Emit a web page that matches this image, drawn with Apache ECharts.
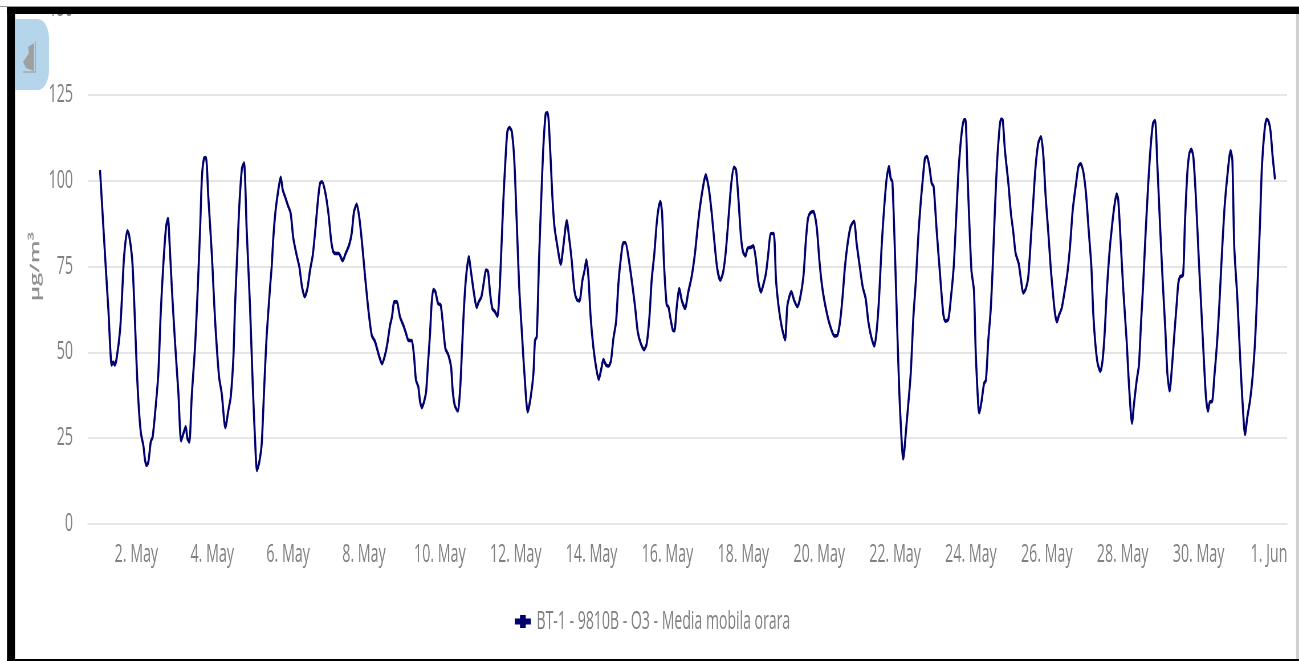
<!DOCTYPE html>
<html><head><meta charset="utf-8">
<style>html,body{margin:0;padding:0;background:#fff;overflow:hidden;width:1299px;height:661px}
#c{height:661px;transform-origin:0 0;filter:blur(0.35px)}</style>
<script src="https://cdn.jsdelivr.net/npm/echarts@6/dist/echarts.min.js"></script>
</head><body><div id="c"></div>
<script>
const seriesName = 'BT-1 - 9810B - O3 - Media mobila orara';
const unitLabel = 'µg/m³';
const tickHours = [24,72,120,168,216,264,312,360,408,456,504,552,600,648,696,744];
const tickLabels = ['2. May','4. May','6. May','8. May','10. May','12. May','14. May','16. May','18. May','20. May','22. May','24. May','26. May','28. May','30. May','1. Jun'];
// hours since 1 May 00:00
const hours = [1,4.6,6.3,8.4,9.4,10.3,11.5,13.7,14.9,16.2,18.3,19.4,21.3,22.5,24.2,25.5,26.9,28.4,29.5,30.5,31.6,33.1,34.3,36,37.9,39.4,41.1,42.8,44,44.9,46.4,48.5,50.6,52.3,53.7,55.2,56.3,57.5,59,61.1,62.6,64.3,65.5,66.8,68,69.5,71.7,73.8,76.3,78,80.3,82.2,83.7,85.4,86.4,87.9,89.2,90.8,92.1,93.8,95.9,97.6,99.1,100.3,101.8,103.3,104.8,106.4,108.6,109.6,110.7,112.1,113.8,115.3,116.6,118.1,119.8,121.6,123.3,125.4,127.1,128.8,130.5,132.2,133.9,135.6,137.2,138.9,140.2,141.5,143.4,145.5,147.2,148.6,150.3,152,154.5,156.4,158.6,160.2,161.7,163.4,165.1,166.8,168.7,170.8,172.9,175,177.7,
179.4,181.3,182.8,184.5,185.7,187.2,188.7,190.8,192.9,194.6,196.1,198.2,199.7,200.9,202.4,203.5,204.7,206.2,207.3,208.5,209.8,210.8,211.9,213.2,214.9,216.5,217.8,219.5,221.4,223.1,224.1,225.4,227.3,228.8,230,231.3,232.6,234.3,235.7,237.6,239.3,240.6,242.3,244,245.2,246.5,247.8,249.2,250.9,252.4,253.7,254.9,256.2,257.5,258.7,260,261.5,263.1,264.6,266.3,267.8,269.5,271.6,273.5,275.2,276.2,277.3,278.8,280.2,281.5,283,284.2,285.7,287.2,288.5,290.4,292.5,294.1,296.3,297.7,299.4,301.1,302.6,304.3,306.2,307.4,308.7,310,311.4,313.1,314.8,316.5,318.2,319.5,321.1,322.8,324.3,325.8,327.5,329,330.4,332.1,333.4,335.3,337.4,339.5,341.2,343.1,345.2,346.9,348.6,350,351.7,353.2,354.5,355.5,356.6,357.8,359.5,360.6,362.1,363.5,364.4,365.9,367.5,
369,371.1,373.2,375.3,377.4,378.9,380.6,382.7,384.2,386.3,388,389.6,391.5,393.4,395.3,397,398.7,400.4,402.1,403.4,404.8,406.5,407.8,409.3,410.7,412.9,414.3,416,417.5,419.2,420.6,422.3,423.8,425.3,427.2,428.7,430.1,432.3,434.4,435.8,437.1,438.4,440.1,442.2,443.9,446,447.6,448.9,450.2,452.3,454.4,456.1,457.6,459.2,461.4,463.5,465.6,467.5,469.2,470.8,472.3,474,475.9,478,479.7,481.4,483.5,485.4,487.1,489.2,490.9,492.4,493.8,495.5,497,498.7,500.2,501.2,502.3,504,505.6,507.1,509.2,511.3,513.9,515.6,517.2,518.7,520.2,521.5,522.9,524.2,525.7,527.2,528.4,530.3,532.4,534.5,535.8,537.7,539.4,541.1,542.6,544.2,546.1,547.6,548.5,549.9,552.3,553.9,555,556.7,557.3,
558.8,560.3,561.5,563,564.5,565.7,567,568.3,569.5,571,572.1,573.5,575.7,577.3,578.8,580.3,582.2,583.7,585.1,586.8,588.3,590,591.5,592.9,594.6,596.3,597.8,599.3,601,602.6,604.1,605.2,606.4,607.7,609.4,611.1,613,614.7,616.4,618.5,620,621.4,623.1,624.8,626.5,628.2,629.4,630.7,632.2,633.9,635.3,636.6,637.9,639.6,641,642.7,644.2,645.2,646.7,648.4,650.5,652.2,653.9,655.2,656.9,658.3,659.6,660.9,662.5,664.2,665.7,667.2,668.5,669.9,671.6,673.3,675,676.3,677.7,679.2,680.9,682.2,683.2,684.3,686.2,687.4,688.9,690.2,691.4,692.7,694.4,696.1,697.8,699.5,700.7,702,703.2,704.5,706,707.7,709.2,710.8,712.5,714.2,716.3,717.4,718.6,720.5,722.2,723.9,725.4,726.9,728.6,730.2,731.7,733.2,734.9,736.1,737.8,739.1,740.4,741.6,742.9,744.4];
const values = [103.1,75,62.3,46.3,47.2,46.3,48.2,56.5,66.2,77.8,85.4,84.2,77.4,66.2,45.8,34.1,26.3,22.9,18.6,17.1,18.1,23.9,25.4,33.1,43.8,61.3,75.9,86.6,89,82.7,69.1,52.6,38,24.2,26.3,28.3,24.9,23.9,37,51.6,66.2,85.6,101.2,106.5,106.7,95.3,78.8,59.4,42.9,38,28.1,33.1,37,48.7,63.3,79.8,93.4,103.6,105.1,85.6,63.3,40.9,24.4,15.6,18.1,23.4,39,54.5,69.1,74.9,83.7,91.4,97.3,101,97.3,95.3,92.9,90.5,83.2,78.3,74.9,69.1,66.2,68.6,74,78.3,85.6,94.4,99.2,99.7,96.8,90.5,82.7,79.3,78.8,78.8,76.7,78.8,81.2,84.6,91,93.1,89,81.7,72,62.3,55,53.1,48.7,
46.7,49.2,52.6,57.9,60.3,64.7,64.7,60.3,57.9,55.5,53.5,53.4,48.7,41.9,39.9,35.6,33.9,36,38.5,46.7,55.5,64.2,68.3,67.6,64.2,63.8,58.9,51.1,49.2,45.8,39,34.6,32.9,39,50.6,63.3,72,77.8,73.5,67.2,63.1,64.7,66.2,71,74,73.5,67.2,62.8,61.8,60.5,67.2,79.8,94.4,106,114.3,115.5,114.3,106,88.5,68.1,56.5,43.8,32.7,37,43.8,53.5,54.5,77.8,95.3,109.9,119.6,119.8,109.9,95.3,86.6,80.8,75.7,80.8,88.3,83.7,76.9,68.1,65.4,65,71,73.5,76.9,72,60.3,51.6,45.8,42.1,45.3,47.9,46.3,46,47.7,54,58.9,70.1,76.9,81.9,81.9,77.8,71,63.3,56,52.6,50.8,52.6,60.3,71,78.8,87.6,92.4,93.9,90.5,75.9,63.8,63.3,59.4,56.4,56.3,63.3,68.6,
65.2,62.8,67.6,72,78.8,85.6,92.4,98.7,101.7,97.3,90.5,82.7,74.4,71,73.5,79.8,89.5,99.2,103.9,103.1,95.3,83.7,79.3,78.1,80.3,80.6,81,76.9,70.6,67.6,69.6,73,78.8,84.5,84.6,71,64.2,57.4,53.7,63.3,66.2,67.6,65.2,63.3,65.7,72,82.7,89,90.5,91,86.6,76.9,70.1,65.2,60.3,56.9,54.8,55,58.9,66.2,74.9,81.7,86.6,88.2,81.7,75.9,69.1,65.7,58.9,54,51.9,56.5,65.2,80.8,91.4,100.7,104.1,100.7,99.7,77.8,53.5,34.1,19,29.3,43.8,60.3,71,83.7,93.4,100.2,106.5,107,104.1,99.2,98.3,85.6,73,61.3,59.1,59.6,66.2,74.9,88.5,103.1,113.8,117.7,117.7,101,74,68.1,50.6,34.1,32.4,
36,40.9,41.9,53.5,62.3,74,89.5,103.1,111.9,117.9,117.7,108.9,99.2,90.5,85.1,78.8,75.9,71,67.3,68.6,72,83.7,94.4,104.1,110.9,112.8,107.5,95.3,84.6,74,66.2,61.3,58.9,60.8,62.8,67.2,73,80.8,91.4,99.2,104.1,104.9,102.6,96.3,85.6,74.9,61.3,52.6,46.7,44.5,47.7,55.5,67.2,78.8,85.6,92.4,96.1,94.4,82.7,68.1,53.5,39,29.4,35.1,41.9,46.3,58.4,69.1,84.6,99.2,109.9,116.7,117.5,105.1,87.6,71,56.5,43.8,38.8,45.8,56.5,64.2,70.1,72,72.5,87.6,102.1,108,109.1,107,94.4,77.8,62.3,46.7,37,32.9,35.6,35.6,42.9,52.6,64.2,78.8,92.4,101.2,108.7,106,80.8,66.2,49.7,35.1,26.1,31.2,36,42.9,52.6,68.1,87.6,104.1,114.8,117.9,117.2,114.3,107,100.4];

// The reference is a horizontally squeezed screenshot: draw wide, then squeeze.
const SX = 0.57;
const X = v => v / SX;
const el = document.getElementById('c');
el.style.width = X(1299) + 'px';
el.style.transform = 'scaleX(' + SX + ')';
const FONT = '"Open Sans",sans-serif';
const TXT = '#808080';
const chart = echarts.init(el);
chart.setOption({
  animation:false,
  backgroundColor:'#fff',
  grid:{left:X(88),right:X(12),top:9,height:515,outerBoundsMode:'none'},
  legend:{
    left:X(512),top:604,itemWidth:28,itemHeight:13,itemGap:5,
    icon:'path://M9 0H19V3.5H28V9.5H19V13H9V9.5H0V3.5H9Z',
    textStyle:{color:TXT,fontSize:24.7,fontFamily:FONT,padding:[0,0,0,5]},
    data:[{name:seriesName,itemStyle:{color:'#00006e'}}]
  },
  xAxis:{
    type:'value',min:-6.6,max:752,
    splitLine:{show:false},
    axisLine:{show:true,lineStyle:{color:'#e6e6e6',width:2}},
    axisTick:{show:false,customValues:tickHours},
    axisLabel:{
      customValues:tickHours,margin:18,color:TXT,fontSize:25,fontFamily:FONT,
      formatter:v=>{const l=tickLabels[tickHours.indexOf(v)];return l==='1. Jun'?'{s|'+l+'}':l;},
      rich:{s:{color:TXT,fontSize:25,fontFamily:FONT,padding:[0,19,0,0]}}
    }
  },
  yAxis:{
    type:'value',min:0,max:150,interval:25,
    name:unitLabel,nameLocation:'middle',nameGap:X(46),nameRotate:90,
    nameTextStyle:{color:'#909090',fontSize:24,fontWeight:600,fontFamily:FONT},
    axisLine:{show:false},axisTick:{show:false},
    splitLine:{lineStyle:{color:'#e6e6e6',width:2}},
    axisLabel:{margin:X(15),color:TXT,fontSize:25,fontFamily:FONT}
  },
  series:[{
    name:seriesName,type:'line',showSymbol:false,smooth:0.25,
    lineStyle:{color:'#00006e',width:3.6},itemStyle:{color:'#00006e'},
    data:hours.map((h,i)=>[h,values[i]])
  }],
  graphic:[
    {type:'rect',z:100,silent:true,shape:{x:0,y:0,width:X(1299),height:6},style:{fill:'#fff'}},
    {type:'rect',z:100,silent:true,shape:{x:0,y:6,width:X(1299),height:1},style:{fill:'#999'}},
    {type:'rect',z:100,silent:true,shape:{x:X(7),y:7,width:X(1292),height:7},style:{fill:'#000'}},
    {type:'rect',z:100,silent:true,shape:{x:X(7),y:7,width:X(8),height:654},style:{fill:'#000'}},
    {type:'rect',z:100,silent:true,shape:{x:X(7),y:659,width:X(1292),height:2},style:{fill:'#000'}},
    {type:'rect',z:100,silent:true,shape:{x:X(1296),y:14,width:X(3),height:645},style:{fill:'#d0d0d0'}},
    {type:'rect',z:101,silent:true,shape:{x:X(15),y:19,width:X(34),height:71,r:[0,20,20,0]},style:{fill:'#b5d5ea'}},
    {type:'polygon',z:102,silent:true,shape:{points:[[34,43],[28,47],[29,53],[23,62],[26,68],[34,71]].map(p=>[X(p[0]),p[1]])},style:{fill:'#a0a0a0'}},
    {type:'polyline',z:102,silent:true,shape:{points:[[35.5,41],[35.5,72],[23,72]].map(p=>[X(p[0]),p[1]])},style:{stroke:'#a8a8a8',fill:null,lineWidth:1.5}}
  ]
});
</script></body></html>
